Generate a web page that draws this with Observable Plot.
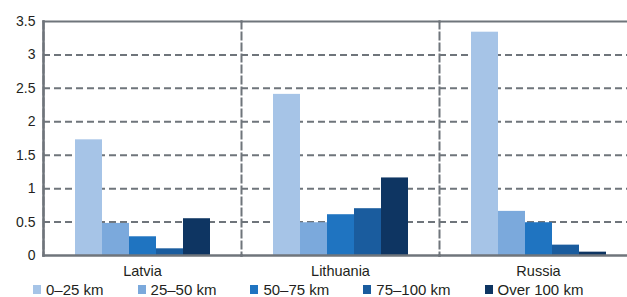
<!DOCTYPE html>
<html>
<head>
<meta charset="utf-8">
<script src="https://cdn.jsdelivr.net/npm/d3@7"></script>
<script src="https://cdn.jsdelivr.net/npm/@observablehq/plot@0.6"></script>
<style>
  html, body { margin: 0; padding: 0; background: #fff; overflow: hidden; width: 627px; height: 297px; }
  body { font-family: "Liberation Sans", Arial, sans-serif; }
  #legend { display: flex; align-items: center; padding-left: 33px; font-size: 15px; color: #231f20; height: 18px; margin-top: 1px; white-space: nowrap; }
  #legend .item { display: flex; align-items: center; margin-right: 34px; flex-shrink: 0; }
  #legend .sw { width: 8px; height: 9px; margin-right: 5px; flex-shrink: 0; }
</style>
</head>
<body>
<div id="chart"></div>
<div id="legend"></div>
<script>
const countries = ["Latvia", "Lithuania", "Russia"];
const bands = ["0–25 km", "25–50 km", "50–75 km", "75–100 km", "Over 100 km"];
const colors = ["#a6c4e7", "#7ba9dc", "#1f74c1", "#1a5c9e", "#0e3562"];
const latvia = [1.73, 0.48, 0.28, 0.10, 0.55];
const lithuania = [2.41, 0.49, 0.61, 0.70, 1.16];
const russia = [3.34, 0.66, 0.49, 0.155, 0.05];
const yTicks = [0, 0.5, 1, 1.5, 2, 2.5, 3, 3.5];
const gridTicks = [0.5, 1, 1.5, 2, 2.5, 3];

const seriesByCountry = [latvia, lithuania, russia];
const data = [];
countries.forEach((c, i) => bands.forEach((b, j) => data.push({country: c, band: b, value: seriesByCountry[i][j]})));

const gray = "#6f757b";
const plot = Plot.plot({
  width: 637,
  height: 279,
  marginLeft: 43,
  marginRight: 0,
  marginTop: 21,
  marginBottom: 24,
  style: {fontFamily: "Liberation Sans, Arial, sans-serif", color: "#231f20", maxWidth: "none", overflow: "visible"},
  fx: {domain: countries, paddingInner: 0, paddingOuter: 0},
  x: {domain: bands, paddingInner: 0, paddingOuter: 1.1},
  y: {domain: [0, 3.5]},
  color: {domain: bands, range: colors},
  marks: [
    Plot.gridY(gridTicks, {stroke: gray, strokeOpacity: 1, strokeWidth: 2, strokeDasharray: "7,4"}),
    Plot.frame({anchor: "left", stroke: gray, strokeWidth: 2, strokeDasharray: "7,4"}),
    Plot.barY(data, {fx: "country", x: "band", y: "value", fill: "band"}),
    Plot.frame({anchor: "top", stroke: gray, strokeWidth: 2}),
    Plot.frame({anchor: "bottom", stroke: gray, strokeWidth: 2.5}),
    Plot.frame({anchor: "left", stroke: gray, strokeWidth: 2.5, fx: "Latvia"}),
    Plot.axisY(yTicks, {tickSize: 0, tickPadding: 8, fontSize: 14, label: null, tickFormat: d => String(d), fill: "#231f20"}),
    Plot.axisFx({anchor: "bottom", tickSize: 0, tickPadding: 10, fontSize: 14.5, label: null, fill: "#231f20"}),
    Plot.axisX({ticks: [], label: null})
  ]
});
document.getElementById("chart").appendChild(plot);

const legend = d3.select("#legend");
bands.forEach((b, i) => {
  const it = legend.append("div").attr("class", "item");
  it.append("div").attr("class", "sw").style("background", colors[i]);
  it.append("span").text(b);
});
</script>
</body>
</html>
